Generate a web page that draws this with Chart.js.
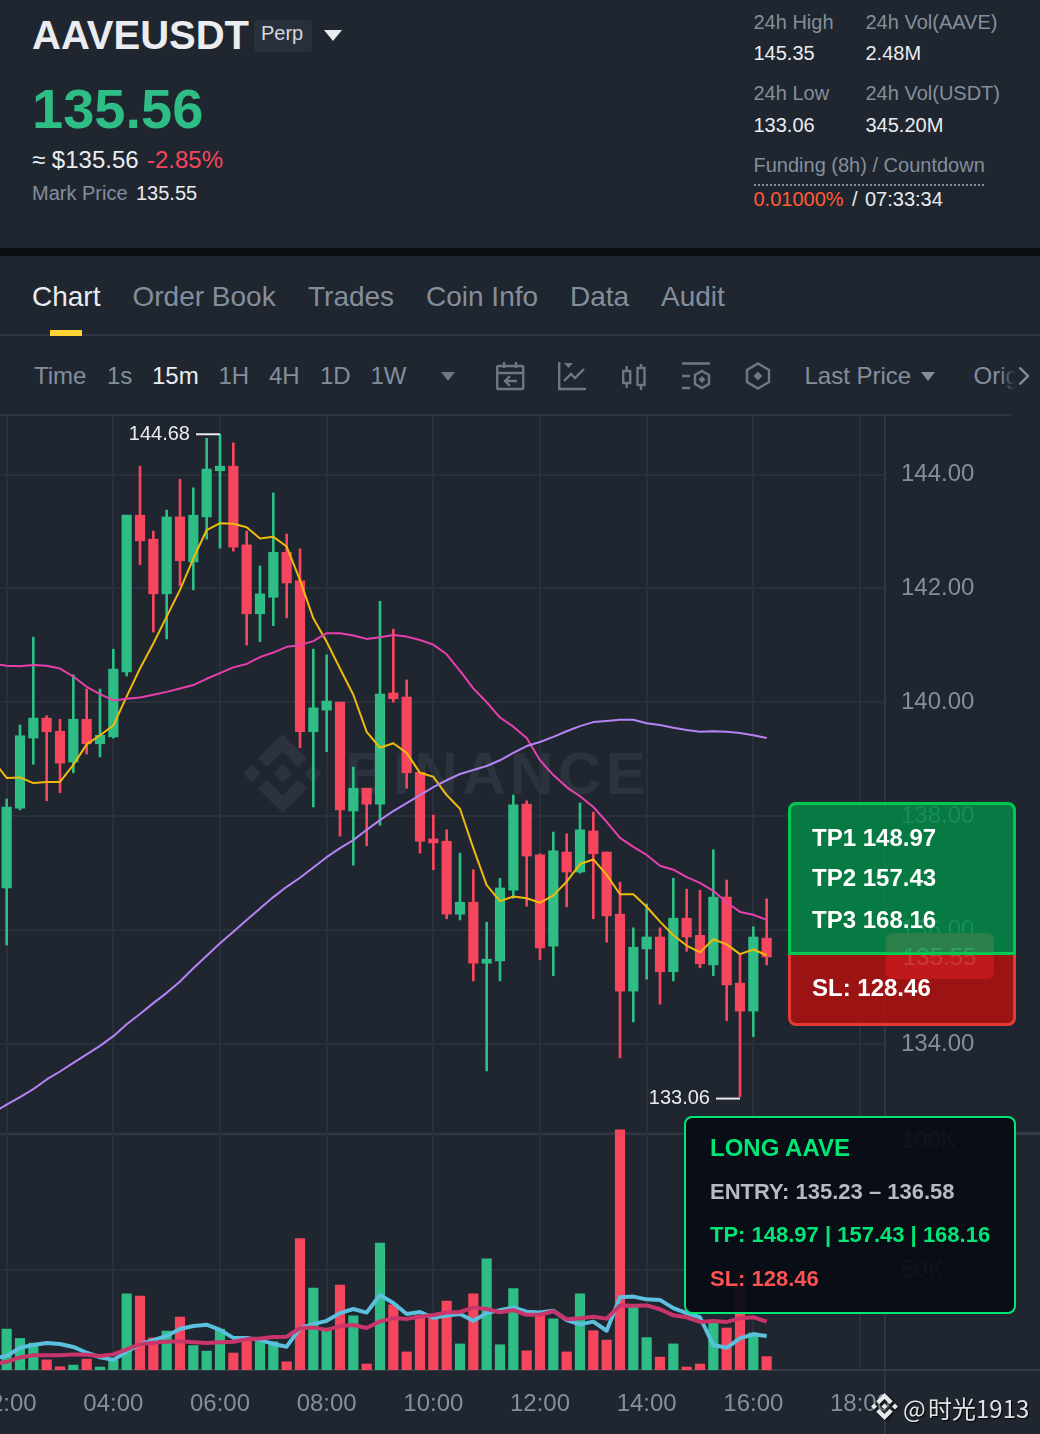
<!DOCTYPE html>
<html>
<head>
<meta charset="utf-8">
<title>AAVEUSDT Perp</title>
<script src="https://cdn.jsdelivr.net/npm/chart.js@4/dist/chart.umd.min.js"></script>
<style>
  html, body { margin: 0; padding: 0; background: #1f2630; }
  body { position: relative; width: 1040px; height: 1434px; overflow: hidden; font-family: "Liberation Sans", Arial, sans-serif; }
  .t { position: absolute; white-space: nowrap; line-height: 1; transform: translateY(-50%); }
  .abs { position: absolute; }
  .gray { color: #848e9c; }
  .white { color: #eaecef; }
  .s20 { font-size: 20px; }
  .s24 { font-size: 24px; }
  .tab { font-size: 28px; color: #848e9c; top: 297px; }
  .tf { font-size: 24px; color: #848e9c; top: 376px; }
  .b24 { font-size: 24px; font-weight: bold; color: #fff; }
  .b22 { font-size: 22px; font-weight: bold; }
  canvas { position: absolute; left: 0; display: block; }
  svg { position: absolute; overflow: visible; }
</style>
</head>
<body>

<!-- ticker header -->
<div class="t white" style="left:32px;top:35px;font-size:40px;font-weight:bold">AAVEUSDT</div>
<div class="abs" style="left:254px;top:20px;width:58px;height:32px;background:#2a303b;border-radius:4px"></div>
<div class="t" style="left:261px;top:33px;font-size:20px;color:#d5d8dc">Perp</div>
<svg style="left:324px;top:30px" width="18" height="11"><path d="M0 0H18L9 11Z" fill="#eaecef"/></svg>
<div class="t" style="left:32px;top:109px;font-size:56px;font-weight:bold;color:#2ebd85">135.56</div>
<div class="t white s24" style="left:32px;top:160px">≈ $135.56</div>
<div class="t s24" style="left:147px;top:160px;color:#f6465d">-2.85%</div>
<div class="t gray s20" style="left:32px;top:193px">Mark Price</div>
<div class="t white s20" style="left:136px;top:193px">135.55</div>

<div class="t gray s20" style="left:753.5px;top:21.5px">24h High</div>
<div class="t white s20" style="left:753.5px;top:53px">145.35</div>
<div class="t gray s20" style="left:865.5px;top:21.5px">24h Vol(AAVE)</div>
<div class="t white s20" style="left:865.5px;top:53px">2.48M</div>
<div class="t gray s20" style="left:753.5px;top:93px">24h Low</div>
<div class="t white s20" style="left:753.5px;top:125px">133.06</div>
<div class="t gray s20" style="left:865.5px;top:93px">24h Vol(USDT)</div>
<div class="t white s20" style="left:865.5px;top:125px">345.20M</div>
<div class="t gray s20" style="left:753.5px;top:165px">Funding (8h) / Countdown</div>
<div class="abs" style="left:754px;top:184px;width:230px;border-top:2px dotted #848e9c"></div>
<div class="t s20" style="left:753.5px;top:199px;color:#ff5b35">0.01000%</div>
<div class="t white s20" style="left:852px;top:199px">/</div>
<div class="t white s20" style="left:865px;top:199px">07:33:34</div>

<div class="abs" style="left:0;top:248px;width:1040px;height:8px;background:#0b0e11"></div>

<!-- tabs -->
<div class="t tab white" style="left:32px;color:#eaecef">Chart</div>
<div class="t tab" style="left:132.5px">Order Book</div>
<div class="t tab" style="left:308px">Trades</div>
<div class="t tab" style="left:426px">Coin Info</div>
<div class="t tab" style="left:570px">Data</div>
<div class="t tab" style="left:661px">Audit</div>
<div class="abs" style="left:0;top:334px;width:1040px;height:2px;background:#2f3540"></div>
<div class="abs" style="left:50px;top:330px;width:32px;height:6px;background:#fcd535"></div>

<!-- toolbar -->
<div class="t tf" style="left:34px">Time</div>
<div class="t tf" style="left:107px">1s</div>
<div class="t tf" style="left:152px;color:#eaecef">15m</div>
<div class="t tf" style="left:218.5px">1H</div>
<div class="t tf" style="left:269px">4H</div>
<div class="t tf" style="left:320px">1D</div>
<div class="t tf" style="left:370.5px">1W</div>
<svg style="left:441px;top:372px" width="14" height="9"><path d="M0 0H14L7 9Z" fill="#6f7784"/></svg>
<svg style="left:496px;top:362px" width="28" height="28" fill="none" stroke="#6f7784" stroke-width="2.4">
  <rect x="1.2" y="4" width="26" height="23" rx="1"/><path d="M1 11H27M8 0V6M20 0V6M21 19H9M14 14L9 19L14 24"/></svg>
<svg style="left:558px;top:362px" width="28" height="28" fill="none" stroke="#6f7784" stroke-width="2.4">
  <path d="M1.2 0V27H28M6 19L13 12L17 16L26 7"/><path d="M6 1H15L10.500 6Z" fill="#6f7784" stroke="none"/></svg>
<svg style="left:622px;top:364px" width="24" height="26" fill="none" stroke="#6f7784" stroke-width="2.4">
  <rect x="1.200" y="7" width="7" height="12"/><rect x="15.500" y="4" width="7" height="17"/><path d="M4.700 2V7M4.700 19V24M19 0V4M19 21V26"/></svg>
<svg style="left:682px;top:362px" width="28" height="28" fill="none" stroke="#6f7784" stroke-width="2.4">
  <path d="M0 1.500H28M0 14H8M0 26H8M20 9L27 13V22L20 26L13 22V13Z"/><path d="M20 14L23.500 17.500L20 21L16.500 17.500Z" fill="#6f7784" stroke="none"/></svg>
<svg style="left:746px;top:362px" width="24" height="28" fill="none" stroke="#6f7784" stroke-width="2.4">
  <path d="M12 1.500L23 8V20L12 26.500L1 20V8Z"/><path d="M12 9.500L16.500 14L12 18.500L7.500 14Z" fill="#6f7784" stroke="none"/></svg>
<div class="t tf" style="left:804.5px">Last Price</div>
<svg style="left:921px;top:372px" width="14" height="9"><path d="M0 0H14L7 9Z" fill="#848e9c"/></svg>
<div class="t tf" style="left:973.5px">Orig</div>
<div class="abs" style="left:1000px;top:360px;width:40px;height:34px;background:linear-gradient(90deg,rgba(31,38,48,0),#1f2630 40%)"></div>
<svg style="left:1018px;top:366px" width="12" height="20" fill="none" stroke="#848e9c" stroke-width="2.4"><path d="M1.500 1.500L10 10L1.500 18.500"/></svg>

<!-- panel lines and watermark, under the canvases -->
<div class="abs" style="left:0;top:414px;width:1012px;height:2px;background:#2f3540"></div>
<div class="abs" style="left:884px;top:415px;width:2px;height:1019px;background:#30363f"></div>
<div class="abs" style="left:0;top:1132px;width:1040px;height:3px;background:#353c47"></div>
<div class="abs" style="left:0;top:1369px;width:1040px;height:2px;background:#333a45"></div>
<svg style="left:243px;top:734px" width="79" height="79" viewBox="0 0 126.61 126.61" fill="#2c333e">
  <path d="M38.73 53.2l24.59-24.58 24.6 24.6 14.3-14.31L63.32 0 24.42 38.9z"/>
  <path d="M0 63.31l14.3-14.31 14.31 14.31-14.31 14.3z"/>
  <path d="M38.73 73.41l24.59 24.59 24.6-24.6 14.31 14.29-38.9 38.91-38.91-38.88z"/>
  <path d="M98 63.31l14.3-14.31 14.31 14.3-14.31 14.32z"/>
  <path d="M77.83 63.3L63.32 48.78 52.59 59.51l-1.24 1.23-2.54 2.54 14.51 14.5 14.51-14.47z"/>
</svg>
<div class="t" style="left:345px;top:774px;font-size:60px;font-weight:bold;color:#2c333e;letter-spacing:4.6px">BINANCE</div>

<canvas id="priceChart" width="1040" height="718" style="top:415px"></canvas>
<canvas id="volumeChart" width="1040" height="309" style="top:1125px"></canvas>

<!-- last price tag, seen through the TP/SL box -->
<div class="abs" style="left:886px;top:933px;width:108px;height:46px;background:#f6465d;border-radius:7px"></div>
<div class="t s24" style="left:903px;top:957px;color:#fff">135.55</div>

<!-- TP / SL box -->
<div class="abs" style="left:788px;top:802px;width:228px;height:153px;box-sizing:border-box;background:rgba(1,139,70,.83);border:3px solid #00c853;border-radius:8px 8px 0 0"></div>
<div class="abs" style="left:788px;top:955px;width:228px;height:71px;box-sizing:border-box;background:rgba(182,16,14,.83);border:3px solid #e53935;border-top:0;border-radius:0 0 8px 8px"></div>
<div class="t b24" style="left:812px;top:838px">TP1 148.97</div>
<div class="t b24" style="left:812px;top:878px">TP2 157.43</div>
<div class="t b24" style="left:812px;top:920px">TP3 168.16</div>
<div class="t b24" style="left:812px;top:988px">SL: 128.46</div>

<!-- trade box -->
<div class="abs" style="left:684px;top:1116px;width:332px;height:198px;box-sizing:border-box;background:rgba(9,12,20,.94);border:2px solid #00e676;border-radius:8px"></div>
<div class="t b24" style="left:710px;top:1148px;color:#00e676">LONG AAVE</div>
<div class="t b22" style="left:710px;top:1192px;color:#b7bac0">ENTRY: 135.23 – 136.58</div>
<div class="t b22" style="left:710px;top:1235px;color:#00e676">TP: 148.97 | 157.43 | 168.16</div>
<div class="t b22" style="left:710px;top:1279px;color:#ff5252">SL: 128.46</div>

<!-- author watermark -->
<svg style="left:871px;top:1393px;filter:drop-shadow(1px 1px 1px #000)" width="27" height="27" viewBox="0 0 126.61 126.61" fill="#e6e8ea">
  <path d="M38.73 53.2l24.59-24.58 24.6 24.6 14.3-14.31L63.32 0 24.42 38.9z"/>
  <path d="M0 63.31l14.3-14.31 14.31 14.31-14.31 14.3z"/>
  <path d="M38.73 73.41l24.59 24.59 24.6-24.6 14.31 14.29-38.9 38.91-38.91-38.88z"/>
  <path d="M98 63.31l14.3-14.31 14.31 14.3-14.31 14.32z"/>
  <path d="M77.83 63.3L63.32 48.78 52.59 59.51l-1.24 1.23-2.54 2.54 14.51 14.5 14.51-14.47z"/>
</svg>
<div class="t" style="left:903px;top:1408px;font-size:24px;color:#e0e2e5;text-shadow:1px 1px 1px #000;font-family:'Noto Sans CJK SC','Noto Sans',sans-serif">@</div>
<div class="t" style="left:928px;top:1408px;font-size:24px;color:#e0e2e5;text-shadow:1px 1px 1px #000;font-family:'Noto Sans CJK SC','Noto Sans',sans-serif">时光1913</div>

<script>
// 15m candles, 02:00 to 16:15
const times = ['02:00','02:15','02:30','02:45','03:00','03:15','03:30','03:45','04:00','04:15',
  '04:30','04:45','05:00','05:15','05:30','05:45','06:00','06:15','06:30','06:45',
  '07:00','07:15','07:30','07:45','08:00','08:15','08:30','08:45','09:00','09:15',
  '09:30','09:45','10:00','10:15','10:30','10:45','11:00','11:15','11:30','11:45',
  '12:00','12:15','12:30','12:45','13:00','13:15','13:30','13:45','14:00','14:15',
  '14:30','14:45','15:00','15:15','15:30','15:45','16:00','16:15'];

const opens = [136.72,138.12,139.35,139.70,139.47,138.93,139.68,139.25,139.37,140.51,
  143.26,142.84,141.88,143.23,142.44,143.23,144.04,144.12,142.74,141.53,
  141.82,142.61,142.11,139.46,139.84,139.98,138.07,138.47,138.19,140.14,
  140.07,138.75,137.58,137.54,136.26,136.47,135.40,135.44,136.68,138.19,
  137.30,135.70,137.35,137.00,137.72,137.35,136.26,134.91,135.65,135.86,
  135.25,136.19,135.89,135.37,136.56,135.05,134.56,135.84];
const closes = [138.14,139.39,139.70,139.46,138.91,139.68,139.25,139.40,140.56,143.26,
  142.81,141.88,143.23,142.46,143.26,144.07,144.12,142.70,141.53,141.88,
  142.61,142.07,139.46,139.88,140.00,138.09,138.47,138.19,140.12,140.04,
  138.74,137.54,137.51,136.26,136.47,135.40,135.47,136.72,138.18,137.28,
  135.67,137.37,137.00,137.74,137.32,136.23,134.91,135.68,135.86,135.25,
  136.19,135.86,135.39,136.56,135.02,134.56,135.86,135.51];
const highs = [138.28,139.58,141.12,139.74,139.68,140.46,140.21,140.21,140.91,143.26,
  144.12,142.98,143.35,143.89,143.74,144.61,144.68,144.53,142.98,142.37,
  143.65,142.93,142.67,140.91,140.81,139.98,138.84,138.47,141.75,141.26,
  140.37,138.75,138.00,137.74,137.33,137.04,136.12,136.89,138.35,138.25,
  137.32,137.70,137.67,138.21,138.05,137.35,136.82,136.02,136.44,136.02,
  136.89,136.70,136.68,137.39,136.86,135.56,136.04,136.53];
const lows = [135.72,138.09,138.89,138.25,138.39,138.74,139.07,139.02,139.35,140.44,
  142.39,141.21,141.09,142.02,141.95,142.84,142.68,142.63,140.98,141.04,
  141.32,141.46,139.18,138.14,139.11,137.63,137.12,137.46,137.82,139.98,
  138.47,137.33,137.04,136.18,136.16,135.09,133.51,135.09,136.54,136.40,
  135.46,135.18,136.39,136.98,136.18,135.77,133.74,134.37,135.12,134.68,
  135.09,135.61,135.32,135.18,134.39,133.06,134.11,135.37];

const ma7 = [138.65,138.66,138.56,138.58,138.58,138.88,139.24,139.40,139.57,140.08,
  140.57,141.01,141.48,141.95,142.50,143.00,143.12,143.11,143.05,142.85,
  142.88,142.71,142.12,141.45,141.04,140.57,140.11,139.46,139.18,139.26,
  139.09,138.74,138.67,138.35,138.11,137.42,136.77,136.49,136.57,136.54,
  136.46,136.59,136.83,137.14,137.22,136.95,136.61,136.61,136.39,136.13,
  135.89,135.71,135.59,135.82,135.73,135.56,135.64,135.54];
const ma25 = [140.62,140.61,140.63,140.62,140.57,140.43,140.25,140.12,140.01,140.04,
  140.06,140.11,140.16,140.22,140.28,140.39,140.49,140.59,140.65,140.77,
  140.85,140.95,140.98,141.05,141.19,141.19,141.15,141.09,141.12,141.16,
  141.13,141.07,140.99,140.82,140.53,140.22,139.98,139.71,139.55,139.35,
  138.96,138.70,138.49,138.33,138.14,137.88,137.60,137.44,137.30,137.11,
  137.04,136.91,136.81,136.67,136.47,136.30,136.25,136.16];
const ma99 = [132.92,133.05,133.19,133.36,133.50,133.65,133.80,133.95,134.12,134.33,
  134.51,134.70,134.88,135.08,135.31,135.53,135.75,135.95,136.16,136.36,
  136.56,136.74,136.90,137.08,137.26,137.42,137.56,137.74,137.91,138.07,
  138.21,138.35,138.49,138.61,138.72,138.79,138.86,138.96,139.09,139.21,
  139.28,139.37,139.47,139.56,139.63,139.65,139.67,139.67,139.61,139.58,
  139.53,139.49,139.46,139.47,139.46,139.44,139.40,139.35];

// volume in thousands
const volumes = [28.7,25.3,23.6,17.5,15.0,15.6,17.8,14.9,17.5,41.5,
  40.7,25.5,28.0,33.1,22.7,20.7,28.7,20.0,24.7,24.1,
  24.1,16.8,61.6,43.6,28.4,44.7,33.5,16.0,60.0,37.5,
  20.4,33.8,32.7,38.9,23.3,41.5,54.2,23.0,43.4,20.8,
  33.8,32.4,20.4,41.5,28.1,24.7,101.1,36.8,25.6,18.5,
  23.3,14.9,16.0,30.9,29.1,49.1,27.3,18.7];
const volMa5 = [18.9,21.9,22.9,23.6,23.3,22.2,20.1,18.4,17.5,20.4,
  23.3,24.7,26.2,28.7,29.8,30.3,28.4,25.5,25.5,24.7,
  23.3,22.3,29.1,30.5,31.7,34.5,36.0,34.7,41.1,38.2,
  34.2,34.9,32.8,33.6,34.2,31.7,34.5,35.6,36.6,35.0,
  34.7,35.4,32.0,30.4,31.4,28.1,40.3,40.5,39.5,39.3,
  36.3,34.5,33.0,22.9,21.9,25.3,26.8,26.2];
const volMa10 = [16.8,18.4,19.2,19.2,19.2,19.5,19.4,18.9,19.5,21.3,
  23.2,23.7,24.1,24.3,23.9,23.6,23.9,24.1,25.0,25.3,
  25.8,25.9,29.1,29.3,28.4,29.8,30.2,29.1,31.5,32.7,
  32.4,33.2,33.8,34.7,34.9,36.5,36.0,34.8,35.6,33.9,
  33.9,35.2,32.3,32.6,33.2,32.5,37.3,37.2,37.3,35.9,
  33.7,33.0,31.3,31.6,31.3,32.6,33.0,31.4];

// the averages start one candle left of the frame
const leadTime = '01:45';
const leadMa7 = 138.95, leadMa25 = 140.65, leadMa99 = 132.78;
const leadVolMa5 = 18.0, leadVolMa10 = 16.0;

const timeTicks = ['02:00','04:00','06:00','08:00','10:00','12:00','14:00','16:00','18:00'];
// grid sits a hair below the round numbers the readings were taken against
const priceTicks = [133.98, 135.98, 137.975, 139.975, 141.975, 143.97];
const priceTickLabels = ['134.00', '136.00', '138.00', '140.00', '142.00', '144.00'];
const volumeTicks = [50, 100];

const UP = '#2ebd85', DOWN = '#f6465d';
const GRID = '#2a303b';
const FONT = '"Liberation Sans", Arial, sans-serif';

// hours since midnight, that is what the x axis runs on
const hours = s => +s.slice(0, 2) + s.slice(3) / 60;
const hourLabel = h => String(h).padStart(2, '0') + ':00';
const candleColors = opens.map((o, i) => closes[i] >= o ? UP : DOWN);

const toPoints = (lead, vals) =>
  [{ x: hours(leadTime), y: lead }].concat(vals.map((v, i) => ({ x: hours(times[i]), y: v })));

const lineSet = (data, color, width) => ({
  type: 'line', data, borderColor: color, borderWidth: width, pointRadius: 0,
  tension: 0, order: 1, borderJoinStyle: 'round'
});

const barSet = (data, thickness, order) => ({
  type: 'bar', data, backgroundColor: candleColors, barThickness: thickness,
  grouped: false, order, borderWidth: 0
});

const xScale = showLabels => ({
  type: 'linear', min: 1.875, max: 18.469, offset: false,
  grid: { color: GRID, lineWidth: 2, drawTicks: false, offset: false },
  border: { display: false },
  afterBuildTicks: s => { s.ticks = timeTicks.map(t => ({ value: hours(t) })); },
  afterFit: s => { s.paddingLeft = 0; s.paddingRight = 0; s.height = showLabels ? 64 : 0; },
  ticks: {
    display: showLabels, maxRotation: 0, autoSkip: false, color: '#848e9c', padding: 20,
    font: { family: FONT, size: 24 }, callback: v => hourLabel(v)
  }
});

const yFit = s => { s.width = 155; s.paddingTop = 0; s.paddingBottom = 0; };

const baseOptions = {
  responsive: false, animation: false, events: [],
  layout: { padding: 0 },
  plugins: { legend: { display: false }, tooltip: { enabled: false } }
};

// small marks next to the highest and lowest wick
const extremeMarks = {
  id: 'extremeMarks',
  afterDatasetsDraw(chart) {
    const { ctx, scales: { x, y } } = chart;
    const iHigh = highs.indexOf(Math.max(...highs));
    const iLow = lows.indexOf(Math.min(...lows));
    [[iHigh, highs[iHigh], 0], [iLow, lows[iLow], 2]].forEach(([i, v, nudge]) => {
      const px = x.getPixelForValue(hours(times[i]));
      const py = y.getPixelForValue(v) + nudge;
      ctx.save();
      ctx.strokeStyle = '#eaecef';
      ctx.lineWidth = 2;
      ctx.beginPath(); ctx.moveTo(px - 24, py); ctx.lineTo(px, py); ctx.stroke();
      ctx.fillStyle = '#eaecef';
      ctx.font = '20px ' + FONT;
      ctx.textAlign = 'right';
      ctx.textBaseline = 'middle';
      ctx.fillText(v.toFixed(2), px - 30, py);
      ctx.restore();
    });
  }
};

new Chart(document.getElementById('priceChart'), {
  type: 'bar',
  data: {
    datasets: [
      lineSet(toPoints(leadMa99, ma99), '#b583f5', 2),
      lineSet(toPoints(leadMa25, ma25), '#e740ad', 2),
      lineSet(toPoints(leadMa7, ma7), '#f0b90b', 2),
      barSet(opens.map((o, i) => ({ x: hours(times[i]), y: [o, closes[i]] })), 9.5, 2),
      barSet(lows.map((l, i) => ({ x: hours(times[i]), y: [l, highs[i]] })), 2, 3)
    ]
  },
  options: Object.assign({}, baseOptions, {
    scales: {
      x: xScale(false),
      y: {
        position: 'right', min: 132.421, max: 145.018,
        grid: { color: GRID, lineWidth: 2, drawTicks: false },
        border: { display: false },
        afterBuildTicks: s => { s.ticks = priceTicks.map(v => ({ value: v })); },
        afterFit: yFit,
        ticks: {
          color: '#848e9c', padding: 16, font: { family: FONT, size: 24 },
          callback: (v, i) => priceTickLabels[i]
        }
      }
    }
  }),
  plugins: [extremeMarks]
});

new Chart(document.getElementById('volumeChart'), {
  type: 'bar',
  data: {
    datasets: [
      lineSet(toPoints(leadVolMa10, volMa10), '#c9356a', 4),
      lineSet(toPoints(leadVolMa5, volMa5), '#5bc0de', 4),
      barSet(volumes.map((v, i) => ({ x: hours(times[i]), y: v })), 9.5, 2)
    ]
  },
  options: Object.assign({}, baseOptions, {
    scales: {
      x: xScale(true),
      y: {
        position: 'right', min: 13.82, max: 102.9,
        grid: { color: GRID, lineWidth: 2, drawTicks: false },
        border: { display: false },
        afterBuildTicks: s => { s.ticks = volumeTicks.map(v => ({ value: v })); },
        afterFit: yFit,
        ticks: {
          color: '#848e9c', padding: 16,
          // the top label sits just under the pane edge, the empty first line pushes it down
          font: { family: FONT, size: 24, lineHeight: 0.67 },
          callback: v => v === 100 ? ['', '100K'] : v + 'K'
        }
      }
    }
  })
});
</script>
</body>
</html>
